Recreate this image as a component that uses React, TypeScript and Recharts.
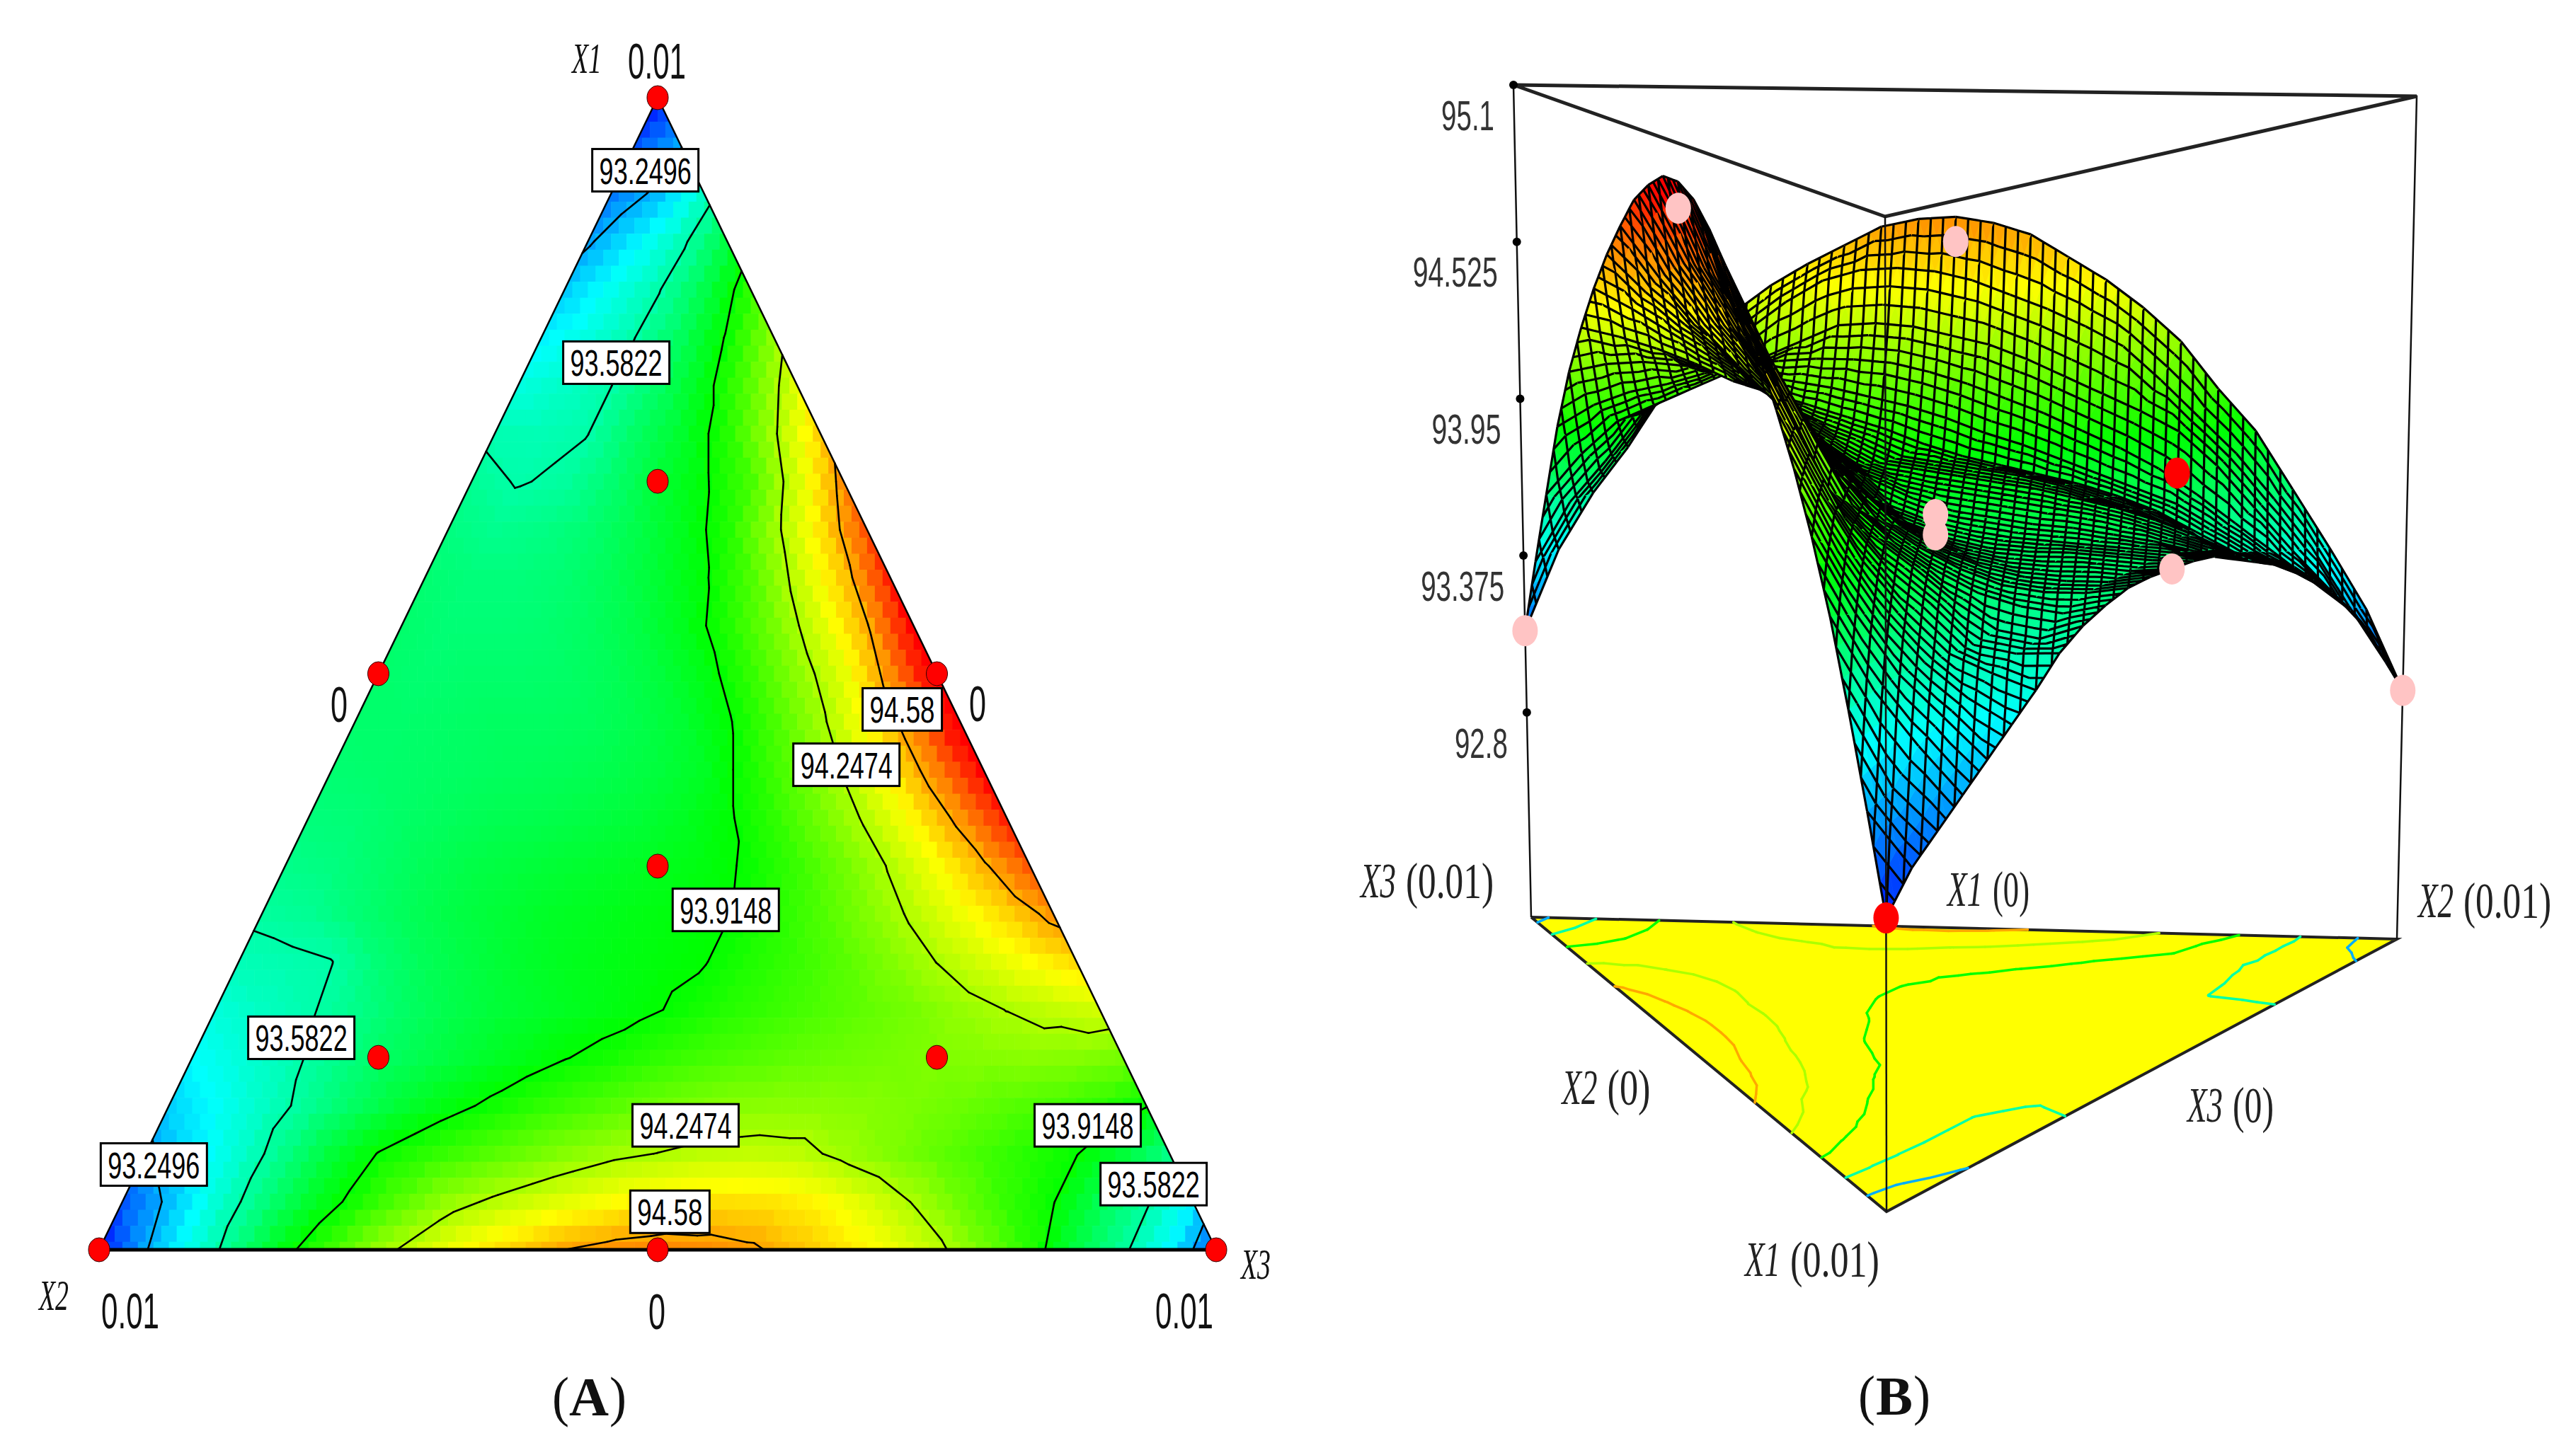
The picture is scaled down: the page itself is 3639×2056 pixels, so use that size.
import { Scatter, ScatterChart, XAxis, YAxis } from "recharts";

// response, one row per X1 step from the X1 corner down to the X2-X3 edge
const responseRows: number[][] = [
  [92.95],
  [93.07, 93.24],
  [93.15, 93.28, 93.52],
  [93.23, 93.38, 93.55, 93.78],
  [93.31, 93.44, 93.57, 93.76, 94.0],
  [93.39, 93.47, 93.58, 93.73, 93.93, 94.19],
  [93.47, 93.52, 93.58, 93.71, 93.87, 94.09, 94.35],
  [93.56, 93.555, 93.58, 93.71, 93.82, 93.98, 94.23, 94.5],
  [93.62, 93.575, 93.6, 93.69, 93.8, 93.9, 94.05, 94.33, 94.63],
  [93.66, 93.63, 93.65, 93.69, 93.76, 93.85, 93.97, 94.21, 94.46, 94.75],
  [93.69, 93.67, 93.67, 93.69, 93.74, 93.81, 93.9, 94.06, 94.29, 94.52, 94.85],
  [93.7, 93.68, 93.68, 93.69, 93.72, 93.77, 93.85, 93.97, 94.14, 94.34, 94.57, 94.93],
  [93.7, 93.69, 93.7, 93.7, 93.71, 93.74, 93.79, 93.87, 94.01, 94.18, 94.36, 94.64, 94.97],
  [93.7, 93.7, 93.71, 93.72, 93.72, 93.73, 93.76, 93.81, 93.9, 94.05, 94.22, 94.43, 94.66, 94.97],
  [93.69, 93.7, 93.71, 93.72, 93.73, 93.74, 93.76, 93.79, 93.84, 93.96, 94.1, 94.26, 94.44, 94.66, 94.92],
  [93.67, 93.68, 93.71, 93.73, 93.75, 93.76, 93.78, 93.8, 93.84, 93.9, 94.0, 94.13, 94.27, 94.43, 94.62, 94.85],
  [93.64, 93.66, 93.7, 93.74, 93.77, 93.79, 93.81, 93.83, 93.85, 93.88, 93.93, 94.02, 94.13, 94.26, 94.4, 94.56, 94.74],
  [93.6, 93.62, 93.68, 93.73, 93.77, 93.8, 93.83, 93.85, 93.87, 93.89, 93.91, 93.98, 94.06, 94.16, 94.27, 94.38, 94.49, 94.62],
  [93.55, 93.565, 93.58, 93.68, 93.74, 93.78, 93.82, 93.85, 93.87, 93.89, 93.91, 93.97, 94.02, 94.08, 94.16, 94.25, 94.33, 94.41, 94.48],
  [93.48, 93.53, 93.57, 93.64, 93.71, 93.76, 93.8, 93.83, 93.86, 93.89, 93.93, 93.98, 94.02, 94.06, 94.1, 94.14, 94.2, 94.25, 94.29, 94.32],
  [93.41, 93.48, 93.55, 93.63, 93.71, 93.76, 93.81, 93.86, 93.91, 93.95, 94.0, 94.04, 94.07, 94.1, 94.12, 94.14, 94.16, 94.17, 94.18, 94.17, 94.14],
  [93.32, 93.42, 93.52, 93.62, 93.72, 93.81, 93.88, 93.94, 94.0, 94.05, 94.1, 94.14, 94.17, 94.18, 94.18, 94.17, 94.15, 94.12, 94.08, 94.05, 94.0, 93.92],
  [93.22, 93.36, 93.5, 93.65, 93.8, 93.92, 93.99, 94.05, 94.11, 94.17, 94.22, 94.25, 94.28, 94.29, 94.28, 94.22, 94.16, 94.1, 94.04, 93.98, 93.92, 93.8, 93.65],
  [93.08, 93.28, 93.49, 93.66, 93.82, 93.95, 94.08, 94.2, 94.27, 94.33, 94.38, 94.43, 94.46, 94.47, 94.46, 94.42, 94.34, 94.24, 94.12, 94.01, 93.92, 93.75, 93.6, 93.38],
  [92.95, 93.24, 93.46, 93.67, 93.88, 94.03, 94.2, 94.32, 94.42, 94.5, 94.58, 94.62, 94.64, 94.63, 94.6, 94.53, 94.46, 94.38, 94.28, 94.13, 93.98, 93.78, 93.61, 93.4, 93.1],
];

const contourLevels = [93.2496, 93.5822, 93.9148, 94.2474, 94.58];

// contour tags on panel A: horizontal position along the base, then X1 fraction
const contourTags = [
  { text: "93.2496", x: 0.489, y: 0.937 },
  { text: "93.5822", x: 0.463, y: 0.77 },
  { text: "94.58", x: 0.719, y: 0.469 },
  { text: "94.2474", x: 0.669, y: 0.421 },
  { text: "93.9148", x: 0.561, y: 0.295 },
  { text: "93.5822", x: 0.181, y: 0.184 },
  { text: "94.2474", x: 0.525, y: 0.108 },
  { text: "93.9148", x: 0.885, y: 0.108 },
  { text: "93.5822", x: 0.944, y: 0.057 },
  { text: "93.2496", x: 0.049, y: 0.074 },
  { text: "94.58", x: 0.511, y: 0.033 },
];

const designPointsA = [
  { x: 0.5, y: 1 },
  { x: 0.25, y: 0.5 },
  { x: 0.75, y: 0.5 },
  { x: 0, y: 0 },
  { x: 0.5, y: 0 },
  { x: 1, y: 0 },
  { x: 0.5, y: 0.333 },
  { x: 0.5, y: 0.667 },
  { x: 0.25, y: 0.167 },
  { x: 0.75, y: 0.167 },
];

// design points on the 3D surface: X1, X2, X3 fractions and response
const designPointsB = [
  { a: 0, b: 0, c: 1, z: 93.1, fill: "#ffc4c4" },
  { a: 0, b: 1, c: 0, z: 92.95, fill: "#ffc4c4" },
  { a: 0.5, b: 0, c: 0.5, z: 94.88, fill: "#ffc4c4" },
  { a: 0, b: 0.5, c: 0.5, z: 94.55, fill: "#ffc4c4" },
  { a: 0.5, b: 0.5, c: 0, z: 93.7, fill: "#ffc4c4" },
  { a: 0.333, b: 0.333, c: 0.333, z: 93.69, fill: "#ffc4c4" },
  { a: 0.333, b: 0.333, c: 0.333, z: 93.76, fill: "#ffc4c4" },
  { a: 0.167, b: 0.667, c: 0.167, z: 93.82, fill: "#ff0000" },
  { a: 1, b: 0, c: 0, z: 92.95, fill: "#ff0000" },
];

const zTicks = [95.1, 94.525, 93.95, 93.375, 92.8];
const zTickLabels = ["95.1", "94.525", "93.95", "93.375", "92.8"];
const zTickWidths = [75, 120, 98, 118, 75];

const N = responseRows.length - 1;
const FINE = 3;
const FN = N * FINE;

// panel A plot box
const A_LEFT = 140;
const A_RIGHT = 1718;
const A_TOP = 138;
const A_BOTTOM = 1766;
const A_W = A_RIGHT - A_LEFT;
const A_H = A_BOTTOM - A_TOP;
const A_CHART_W = 1880;

// panel B box corners in page pixels, floor then ceiling: X3, X1, X2
const Z_MIN = 92.05;
const Z_MAX = 95.1;
const FLOOR = { l: [2163, 1296], f: [2665, 1712], r: [3386, 1327] };
const CEIL = { l: [2138, 120], f: [2663, 306], r: [3414, 136] };
const WEIGHT = { l: 1, f: 0.79, r: 0.96 };

const project = (a: number, b: number, c: number, z: number) => {
  const t = (z - Z_MIN) / (Z_MAX - Z_MIN);
  const wl = c * WEIGHT.l;
  const wf = a * WEIGHT.f;
  const wr = b * WEIGHT.r;
  const sum = wl + wf + wr;
  const at = (k: "l" | "f" | "r", d: number) => FLOOR[k][d] + (CEIL[k][d] - FLOOR[k][d]) * t;
  return {
    x: (wl * at("l", 0) + wf * at("f", 0) + wr * at("r", 0)) / sum,
    y: (wl * at("l", 1) + wf * at("f", 1) + wr * at("r", 1)) / sum,
  };
};

const STOPS: [number, number[]][] = [
  [92.91, [0, 0, 255]],
  [93.41, [0, 255, 255]],
  [93.91, [0, 255, 0]],
  [94.41, [255, 255, 0]],
  [94.91, [255, 0, 0]],
];

const heat = (z: number) => {
  if (z <= STOPS[0][0]) return "rgb(0,0,255)";
  for (let s = 0; s < STOPS.length - 1; s++) {
    const [z0, c0] = STOPS[s];
    const [z1, c1] = STOPS[s + 1];
    if (z <= z1) {
      const t = (z - z0) / (z1 - z0);
      return `rgb(${c0.map((v, k) => Math.round(v + (c1[k] - v) * t)).join(",")})`;
    }
  }
  return "rgb(255,0,0)";
};

const V = (i: number, j: number) => responseRows[i][j];

// shading inside a facet: position on the flat triangle between table nodes
const facetValue = (fi: number, fj: number) => {
  const I = Math.min(Math.floor(fi / FINE), N);
  const J = Math.min(Math.floor(fj / FINE), I);
  const u = fi / FINE - I;
  const v = fj / FINE - J;
  if (u === 0 && v === 0) return V(I, J);
  if (u === 0) return V(I, J) + v * (V(I, J + 1) - V(I, J));
  if (v <= u) {
    return V(I, J) + u * (V(I + 1, J) - V(I, J)) + v * (V(I + 1, J + 1) - V(I + 1, J));
  }
  return V(I, J) + v * (V(I, J + 1) - V(I, J)) + u * (V(I + 1, J + 1) - V(I, J + 1));
};

const fineCache: Record<string, { x: number; y: number; z: number }> = {};
const fineNode = (fi: number, fj: number) => {
  const key = `${fi}_${fj}`;
  if (!fineCache[key]) {
    const z = facetValue(fi, fj);
    const p = project(1 - fi / FN, (fi - fj) / FN, fj / FN, z);
    fineCache[key] = { x: p.x, y: p.y, z };
  }
  return fineCache[key];
};

const tableNodes = responseRows.flatMap((row, i) =>
  row.map((z, j) => ({ i, j, z, a: 1 - i / N })),
);

// panel A nodes: x along the base, y = X1 fraction
const heatNodes = tableNodes.map((n) => ({
  i: n.i,
  j: n.j,
  x: n.j / N + n.a / 2,
  y: n.a,
}));

// panel B nodes, back rows first so the near part of the surface paints last
const surfaceNodes = tableNodes
  .filter((n) => n.i < N)
  .sort((p, q) => q.i - p.i || p.j - q.j)
  .map((n) => {
    const p = project(n.a, 1 - n.a - n.j / N, n.j / N, n.z);
    return { i: n.i, j: n.j, x: p.x, y: p.y };
  });

// contour segments by marching over the table's triangles
type Seg = { level: number; a1: number; c1: number; a2: number; c2: number };
const contourSegments: Seg[] = [];
const cross = (p: number[], q: number[], level: number) => {
  const t = (level - p[2]) / (q[2] - p[2]);
  return [p[0] + (q[0] - p[0]) * t, p[1] + (q[1] - p[1]) * t];
};
const nodeVec = (i: number, j: number) => [1 - i / N, j / N, V(i, j)];
for (let i = 0; i < N; i++) {
  for (let j = 0; j <= i; j++) {
    const tris = [[nodeVec(i, j), nodeVec(i + 1, j), nodeVec(i + 1, j + 1)]];
    if (j + 1 <= i) tris.push([nodeVec(i, j), nodeVec(i, j + 1), nodeVec(i + 1, j + 1)]);
    for (const tri of tris) {
      for (const level of contourLevels) {
        const hits: number[][] = [];
        for (let e = 0; e < 3; e++) {
          const p = tri[e];
          const q = tri[(e + 1) % 3];
          if (p[2] < level !== q[2] < level) hits.push(cross(p, q, level));
        }
        if (hits.length === 2) {
          contourSegments.push({ level, a1: hits[0][0], c1: hits[0][1], a2: hits[1][0], c2: hits[1][1] });
        }
      }
    }
  }
}

const contourA = contourSegments.map((s) => ({
  x: s.c1 + s.a1 / 2,
  y: s.a1,
  x2: s.c2 + s.a2 / 2,
  y2: s.a2,
}));

const contourFloor = contourSegments.map((s) => {
  const p = project(s.a1, 1 - s.a1 - s.c1, s.c1, Z_MIN);
  const q = project(s.a2, 1 - s.a2 - s.c2, s.c2, Z_MIN);
  return { x: p.x, y: p.y, x2: q.x, y2: q.y, level: s.level };
});

const HeatCell = (props: any) => {
  const { cx, cy, payload } = props;
  const blocks = [];
  const stepX = A_W / FN;
  const stepY = A_H / FN;
  for (let fi = payload.i * FINE; fi < (payload.i + 1) * FINE && fi <= FN; fi++) {
    for (let fj = payload.j * FINE; fj < (payload.j + 1) * FINE && fj <= fi; fj++) {
      const a = 1 - fi / FN;
      const px = cx + (fj / FN + a / 2 - payload.x) * A_W;
      const py = cy - (a - payload.y) * A_H;
      blocks.push(
        <rect
          key={`${fi}-${fj}`}
          x={px - stepX / 2}
          y={py - stepY / 2}
          width={stepX + 0.6}
          height={stepY + 0.6}
          fill={heat(facetValue(fi, fj))}
        />,
      );
    }
  }
  return <g clipPath="url(#ternaryClip)">{blocks}</g>;
};

const SurfaceCell = (props: any) => {
  const { payload } = props;
  const polys = [];
  let mesh = "";
  const seg = (p: { x: number; y: number }, q: { x: number; y: number }) => {
    mesh += `M${(p.x - 1900).toFixed(1)} ${p.y.toFixed(1)}L${(q.x - 1900).toFixed(1)} ${q.y.toFixed(1)}`;
  };
  const mid = (p: { x: number; y: number }, q: { x: number; y: number }) => ({
    x: (p.x + q.x) / 2,
    y: (p.y + q.y) / 2,
  });
  const pts = (list: { x: number; y: number }[]) => list.map((p) => `${p.x - 1900},${p.y}`).join(" ");
  for (let fi = payload.i * FINE + FINE - 1; fi >= payload.i * FINE; fi--) {
    for (let fj = payload.j * FINE; fj < (payload.j + 1) * FINE && fj <= fi; fj++) {
      const top = fineNode(fi, fj);
      const bl = fineNode(fi + 1, fj);
      const br = fineNode(fi + 1, fj + 1);
      const col = heat((top.z + bl.z + br.z) / 3);
      polys.push(
        <polygon key={`u${fi}-${fj}`} points={pts([top, bl, br])} fill={col} stroke={col} strokeWidth={0.8} />,
      );
      seg(bl, br);
      if (fi % 2 === 0) seg(top, mid(bl, br));
      if (fj === 0) seg(top, bl);
      if (fj === fi) seg(top, br);
      if (fj + 1 <= fi) {
        const tr = fineNode(fi, fj + 1);
        const col2 = heat((top.z + tr.z + br.z) / 3);
        polys.push(
          <polygon key={`d${fi}-${fj}`} points={pts([top, tr, br])} fill={col2} stroke={col2} strokeWidth={0.8} />,
        );
        if (fi % 2 === 1) seg(mid(top, tr), br);
      }
    }
  }
  return (
    <g>
      {polys}
      <path d={mesh} stroke="#000" strokeWidth={3.2} fill="none" />
    </g>
  );
};

const ContourA = (props: any) => {
  const { cx, cy, payload } = props;
  return (
    <line
      x1={cx}
      y1={cy}
      x2={cx + (payload.x2 - payload.x) * A_W}
      y2={cy - (payload.y2 - payload.y) * A_H}
      stroke="#000"
      strokeWidth={2.6}
      strokeLinecap="round"
    />
  );
};

const ContourFloor = (props: any) => {
  const { cx, cy, payload } = props;
  return (
    <line
      x1={cx}
      y1={cy}
      x2={cx + payload.x2 - payload.x}
      y2={cy + payload.y2 - payload.y}
      stroke={heat(payload.level)}
      strokeWidth={3.5}
      strokeLinecap="round"
    />
  );
};

// natural text width in em, so a label can be squeezed to the narrow look of the original
const charEm = (ch: string, serif: boolean, bold: boolean) => {
  if (ch === "X") return 0.611;
  if (ch === "A") return 0.722;
  if (ch === "B") return 0.667;
  if (ch === "(" || ch === ")") return 0.333;
  if (ch === ".") return serif ? 0.25 : 0.278;
  return serif ? 0.5 : 0.556;
};

const Squeezed = ({ x, y, w, size, italic, serif, bold, anchor = "middle", fill = "#111", text }: any) => {
  const natural = [...text].reduce((sum: number, ch: string) => sum + charEm(ch, serif, bold), 0) * size;
  return (
    <text
      transform={`translate(${x} ${y}) scale(${(w / natural).toFixed(3)} 1)`}
      textAnchor={anchor}
      dominantBaseline="central"
      fontFamily={serif ? "Liberation Serif" : "Liberation Sans"}
      fontStyle={italic ? "italic" : "normal"}
      fontWeight={bold ? "bold" : "normal"}
      fontSize={size}
      fill={fill}
    >
      {text}
    </text>
  );
};

const Tag = (props: any) => {
  const { cx, cy, payload } = props;
  const w = payload.text.length > 5 ? 150 : 112;
  return (
    <g>
      <rect x={cx - w / 2} y={cy - 30} width={w} height={60} fill="#fff" stroke="#000" strokeWidth={3} />
      <Squeezed x={cx} y={cy + 1} w={w - 20} size={52} fill="#000" text={payload.text} />
    </g>
  );
};

const RedDot = (props: any) => <ellipse cx={props.cx} cy={props.cy} rx={15} ry={17} fill="#ff0000" stroke="#300" strokeWidth={1} />;

const PinkDot = (props: any) => (
  <ellipse cx={props.cx} cy={props.cy} rx={18} ry={22} fill={props.payload.fill} />
);

const TickDot = (props: any) => <circle cx={props.cx} cy={props.cy} r={6} fill="#000" />;

const TickText = (props: any) => (
  <Squeezed
    x={props.cx - 27}
    y={props.cy + 43}
    w={props.payload.w}
    size={60}
    anchor="end"
    fill="#333"
    text={props.payload.label}
  />
);

const NoDot = () => null;

const AXIS_NAME_W = 50;
const AXIS_GAP = 14;

const AxisLabel = ({ x, y, w, name, value }: any) => {
  const left = x - w / 2;
  const valueW = w - AXIS_NAME_W - AXIS_GAP;
  return (
    <>
      <Squeezed x={left + AXIS_NAME_W / 2} y={y} w={AXIS_NAME_W} size={70} italic serif fill="#222" text={name} />
      <Squeezed x={x + w / 2 - valueW / 2} y={y} w={valueW} size={72} serif fill="#222" text={`(${value})`} />
    </>
  );
};

const floorL = project(0, 0, 1, Z_MIN);
const floorF = project(1, 0, 0, Z_MIN);
const floorR = project(0, 1, 0, Z_MIN);
const ceilL = project(0, 0, 1, Z_MAX);
const ceilF = project(1, 0, 0, Z_MAX);
const ceilR = project(0, 1, 0, Z_MAX);

const zTickData = zTicks.map((z, k) => ({
  ...project(0, 0, 1, z),
  label: zTickLabels[k],
  w: zTickWidths[k],
}));

const designB = designPointsB.map((d) => ({ ...project(d.a, d.b, d.c, d.z), fill: d.fill }));

export default function App() {
  return (
    <div style={{ position: "absolute", left: 0, top: 0, width: 3639, height: 2056, background: "#fff" }}>
      <svg width={0} height={0} style={{ position: "absolute" }}>
        <defs>
          <clipPath id="ternaryClip" clipPathUnits="userSpaceOnUse">
            <polygon points={`${A_LEFT},${A_BOTTOM} ${A_RIGHT},${A_BOTTOM} ${(A_LEFT + A_RIGHT) / 2},${A_TOP}`} />
          </clipPath>
        </defs>
      </svg>

      {/* panel A */}
      <div style={{ position: "absolute", left: 0, top: 0 }}>
        <ScatterChart
          width={A_CHART_W}
          height={2056}
          margin={{ left: A_LEFT, right: A_CHART_W - A_RIGHT, top: A_TOP, bottom: 2056 - A_BOTTOM }}
        >
          <XAxis type="number" dataKey="x" domain={[0, 1]} hide />
          <YAxis type="number" dataKey="y" domain={[0, 1]} hide />
          <Scatter data={heatNodes} shape={HeatCell} isAnimationActive={false} />
          <Scatter data={contourA} shape={ContourA} isAnimationActive={false} />
          <Scatter
            data={[{ x: 0, y: 0 }, { x: 0.5, y: 1 }, { x: 1, y: 0 }]}
            shape={NoDot}
            line={{ stroke: "#000", strokeWidth: 2.5 }}
            lineType="joint"
            isAnimationActive={false}
          />
          <Scatter
            data={[{ x: 0, y: 0 }, { x: 1, y: 0 }]}
            shape={NoDot}
            line={{ stroke: "#000", strokeWidth: 5 }}
            lineType="joint"
            isAnimationActive={false}
          />
          <Scatter data={contourTags} shape={Tag} isAnimationActive={false} />
          <Scatter data={designPointsA} shape={RedDot} isAnimationActive={false} />
          <Squeezed x={829} y={82} w={42} size={62} italic serif text="X1" />
          <Squeezed x={928} y={87} w={82} size={70} text="0.01" />
          <Squeezed x={479} y={995} w={24} size={70} text="0" />
          <Squeezed x={1381} y={994} w={24} size={70} text="0" />
          <Squeezed x={895} y={1216} w={20} size={54} text="3" />
          <Squeezed x={76} y={1830} w={42} size={62} italic serif text="X2" />
          <Squeezed x={1774} y={1786} w={42} size={62} italic serif text="X3" />
          <Squeezed x={184} y={1853} w={82} size={70} text="0.01" />
          <Squeezed x={928} y={1853} w={24} size={70} text="0" />
          <Squeezed x={1673} y={1853} w={82} size={70} text="0.01" />
          <Squeezed x={792} y={1974} w={24} size={78} serif text="(" />
          <Squeezed x={832} y={1974} w={56} size={78} bold serif text="A" />
          <Squeezed x={873} y={1974} w={24} size={78} serif text=")" />
        </ScatterChart>
      </div>

      {/* panel B */}
      <div style={{ position: "absolute", left: 1900, top: 0 }}>
        <ScatterChart width={1739} height={2056} margin={{ left: 0, right: 0, top: 0, bottom: 0 }}>
          <XAxis type="number" dataKey="x" domain={[1900, 3639]} hide />
          <YAxis type="number" dataKey="y" domain={[0, 2056]} reversed hide />
          <Scatter
            data={[floorL, floorR, floorF, floorL]}
            shape={NoDot}
            line={{ stroke: "#222", strokeWidth: 4, fill: "#ffff00" }}
            lineType="joint"
            isAnimationActive={false}
          />
          <Scatter data={contourFloor} shape={ContourFloor} isAnimationActive={false} />
          <Scatter
            data={[floorL, ceilL, ceilR, floorR]}
            shape={NoDot}
            line={{ stroke: "#111", strokeWidth: 2.5, fill: "none" }}
            lineType="joint"
            isAnimationActive={false}
          />
          <Scatter
            data={[ceilL, ceilR, ceilF, ceilL]}
            shape={NoDot}
            line={{ stroke: "#222", strokeWidth: 5, fill: "none" }}
            lineType="joint"
            isAnimationActive={false}
          />
          <Scatter data={surfaceNodes} shape={SurfaceCell} isAnimationActive={false} />
          <Scatter
            data={[ceilF, floorF]}
            shape={NoDot}
            line={{ stroke: "#111", strokeWidth: 2.5 }}
            lineType="joint"
            isAnimationActive={false}
          />
          <Scatter data={zTickData} shape={TickDot} isAnimationActive={false} />
          <Scatter data={zTickData} shape={TickText} isAnimationActive={false} />
          <Scatter data={designB} shape={PinkDot} isAnimationActive={false} />
          <AxisLabel x={116} y={1245} w={188} name="X3" value="0.01" />
          <AxisLabel x={909} y={1257} w={116} name="X1" value="0" />
          <AxisLabel x={1610} y={1273} w={188} name="X2" value="0.01" />
          <AxisLabel x={369} y={1537} w={125} name="X2" value="0" />
          <AxisLabel x={1251} y={1562} w={122} name="X3" value="0" />
          <AxisLabel x={660} y={1780} w={190} name="X1" value="0.01" />
          <Squeezed x={737} y={1972} w={24} size={78} serif text="(" />
          <Squeezed x={776} y={1972} w={52} size={78} bold serif text="B" />
          <Squeezed x={815} y={1972} w={24} size={78} serif text=")" />
        </ScatterChart>
      </div>
    </div>
  );
}
